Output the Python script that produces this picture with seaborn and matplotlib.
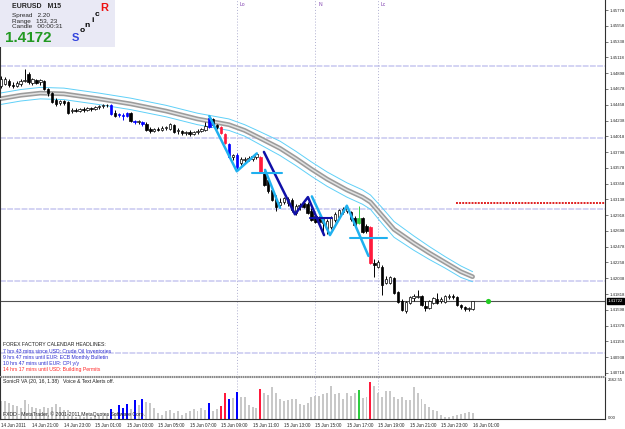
import numpy as np
import seaborn as sns
import matplotlib.pyplot as plt
from matplotlib.lines import Line2D
from matplotlib.patches import Rectangle

sns.set_style("white")
plt.rcParams['font.family'] = ['Liberation Sans', 'DejaVu Sans']

# EURUSD M15 bars, 14 Jun 19:00 .. 16 Jun 01:00 (121 bars)
opens = [1.4472, 1.4475, 1.4479, 1.4473, 1.4472, 1.4475, 1.4479, 1.4489, 1.4476, 1.4480,
         1.4478, 1.4479, 1.4468, 1.4462, 1.4452, 1.4448, 1.4451, 1.4450, 1.4437, 1.4438,
         1.4437, 1.4440, 1.4438, 1.4441, 1.4440, 1.4443, 1.4444, 1.4445, 1.4445, 1.4434,
         1.4431, 1.4431, 1.4430, 1.4434, 1.4423, 1.4422, 1.4422, 1.4419, 1.4412, 1.4409,
         1.4412, 1.4411, 1.4413, 1.4412, 1.4418, 1.4409, 1.4409, 1.4406, 1.4408, 1.4405,
         1.4408, 1.4409, 1.4411, 1.4415, 1.4426, 1.4418, 1.4415, 1.4405, 1.4391, 1.4373,
         1.4376, 1.4365, 1.4369, 1.4370, 1.4370, 1.4373, 1.4373, 1.4352, 1.4341, 1.4327,
         1.4314, 1.4306, 1.4310, 1.4309, 1.4313, 1.4295, 1.4305, 1.4309, 1.4307, 1.4298,
         1.4291, 1.4286, 1.4281, 1.4272, 1.4275, 1.4285, 1.4289, 1.4296, 1.4298, 1.4296,
         1.4288, 1.4281, 1.4288, 1.4277, 1.4275, 1.4225, 1.4220, 1.4220, 1.4197, 1.4197,
         1.4204, 1.4185, 1.4172, 1.4158, 1.4169, 1.4176, 1.4178, 1.4179, 1.4165, 1.4162,
         1.4169, 1.4175, 1.4172, 1.4171, 1.4178, 1.4179, 1.4178, 1.4167, 1.4164, 1.4161,
         1.4161]
highs = [1.4486, 1.4485, 1.4482, 1.4478, 1.4479, 1.4482, 1.4496, 1.4492, 1.4483, 1.4482,
         1.4482, 1.4480, 1.4469, 1.4464, 1.4455, 1.4452, 1.4452, 1.4451, 1.4441, 1.4441,
         1.4441, 1.4443, 1.4443, 1.4443, 1.4444, 1.4445, 1.4447, 1.4447, 1.4447, 1.4438,
         1.4434, 1.4434, 1.4436, 1.4436, 1.4425, 1.4425, 1.4423, 1.4422, 1.4415, 1.4413,
         1.4415, 1.4416, 1.4416, 1.4420, 1.4419, 1.4413, 1.4411, 1.4409, 1.4411, 1.4409,
         1.4412, 1.4413, 1.4422, 1.4430, 1.4427, 1.4419, 1.4416, 1.4406, 1.4392, 1.4377,
         1.4378, 1.4373, 1.4373, 1.4374, 1.4376, 1.4378, 1.4374, 1.4353, 1.4345, 1.4330,
         1.4320, 1.4316, 1.4317, 1.4317, 1.4316, 1.4307, 1.4309, 1.4313, 1.4310, 1.4302,
         1.4295, 1.4291, 1.4289, 1.4286, 1.4291, 1.4296, 1.4300, 1.4303, 1.4305, 1.4298,
         1.4291, 1.4305, 1.4289, 1.4279, 1.4277, 1.4231, 1.4229, 1.4222, 1.4207, 1.4207,
         1.4206, 1.4186, 1.4175, 1.4172, 1.4179, 1.4182, 1.4187, 1.4180, 1.4172, 1.4173,
         1.4178, 1.4183, 1.4178, 1.4180, 1.4182, 1.4182, 1.4179, 1.4168, 1.4165, 1.4164,
         1.4172]
lows = [1.4469, 1.4473, 1.4471, 1.4469, 1.4471, 1.4472, 1.4478, 1.4475, 1.4473, 1.4475,
        1.4473, 1.4466, 1.4458, 1.4448, 1.4444, 1.4445, 1.4445, 1.4433, 1.4434, 1.4436,
        1.4436, 1.4436, 1.4437, 1.4437, 1.4438, 1.4440, 1.4441, 1.4443, 1.4431, 1.4429,
        1.4429, 1.4425, 1.4429, 1.4422, 1.4419, 1.4419, 1.4416, 1.4409, 1.4406, 1.4408,
        1.4409, 1.4409, 1.4411, 1.4411, 1.4406, 1.4405, 1.4404, 1.4404, 1.4402, 1.4404,
        1.4405, 1.4408, 1.4409, 1.4413, 1.4416, 1.4412, 1.4405, 1.4391, 1.4371, 1.4369,
        1.4353, 1.4362, 1.4365, 1.4367, 1.4367, 1.4370, 1.4351, 1.4332, 1.4323, 1.4311,
        1.4298, 1.4302, 1.4307, 1.4305, 1.4296, 1.4292, 1.4299, 1.4302, 1.4293, 1.4284,
        1.4281, 1.4279, 1.4264, 1.4265, 1.4272, 1.4282, 1.4288, 1.4293, 1.4295, 1.4284,
        1.4277, 1.4279, 1.4267, 1.4267, 1.4224, 1.4206, 1.4218, 1.4180, 1.4196, 1.4196,
        1.4182, 1.4169, 1.4158, 1.4155, 1.4168, 1.4172, 1.4176, 1.4165, 1.4158, 1.4161,
        1.4168, 1.4168, 1.4169, 1.4169, 1.4175, 1.4175, 1.4165, 1.4161, 1.4158, 1.4158,
        1.4160]
closes = [1.4482, 1.4482, 1.4473, 1.4472, 1.4476, 1.4479, 1.4480, 1.4478, 1.4482, 1.4476,
          1.4480, 1.4468, 1.4462, 1.4450, 1.4447, 1.4451, 1.4448, 1.4434, 1.4438, 1.4437,
          1.4440, 1.4438, 1.4441, 1.4440, 1.4443, 1.4444, 1.4445, 1.4445, 1.4433, 1.4430,
          1.4433, 1.4430, 1.4434, 1.4423, 1.4422, 1.4423, 1.4419, 1.4411, 1.4409, 1.4412,
          1.4411, 1.4413, 1.4415, 1.4419, 1.4408, 1.4411, 1.4406, 1.4408, 1.4405, 1.4408,
          1.4409, 1.4412, 1.4416, 1.4427, 1.4418, 1.4415, 1.4406, 1.4392, 1.4373, 1.4376,
          1.4359, 1.4370, 1.4370, 1.4371, 1.4374, 1.4377, 1.4352, 1.4334, 1.4325, 1.4313,
          1.4303, 1.4310, 1.4316, 1.4314, 1.4299, 1.4305, 1.4306, 1.4303, 1.4295, 1.4285,
          1.4282, 1.4282, 1.4286, 1.4284, 1.4288, 1.4293, 1.4299, 1.4300, 1.4302, 1.4286,
          1.4278, 1.4288, 1.4268, 1.4270, 1.4225, 1.4222, 1.4226, 1.4194, 1.4203, 1.4206,
          1.4183, 1.4171, 1.4160, 1.4171, 1.4178, 1.4179, 1.4179, 1.4167, 1.4162, 1.4172,
          1.4176, 1.4169, 1.4175, 1.4179, 1.4179, 1.4178, 1.4167, 1.4164, 1.4161, 1.4162,
          1.4172]
volumes = [1130, 1130, 1010, 880, 820, 700, 1200, 950, 760, 700,
           630, 760, 700, 760, 950, 760, 570, 570, 190, 130,
           250, 130, 190, 130, 190, 250, 190, 250, 630, 380,
           880, 700, 950, 630, 1200, 880, 1270, 1070, 1010, 700,
           380, 250, 500, 570, 380, 500, 250, 380, 500, 630,
           500, 700, 570, 1010, 500, 630, 820, 1640, 1270, 1330,
           1700, 1390, 1390, 880, 760, 700, 1890, 1640, 1510, 2020,
           1640, 1260, 1130, 1200, 1260, 1260, 950, 880, 1010, 1390,
           1450, 1450, 1580, 1640, 2080, 1580, 1640, 1260, 1640, 1450,
           1640, 1830, 1320, 1390, 2330, 2080, 1640, 1390, 1760, 1760,
           1390, 1260, 1390, 1200, 1200, 2020, 1640, 1260, 950, 760,
           570, 500, 250, 130, 130, 190, 250, 320, 380, 440, 380]
blue_bars = [28, 30, 31, 32, 34, 36, 53, 58, 60]
red_bars = [56, 57, 66, 94]
green_bars = [91]

# "dragon" EMA band and its high/low envelope
band_bars = [-0.3, 5, 10, 16, 25, 33, 42, 50, 58, 62, 66, 71, 75, 79, 83, 88, 92, 94, 97, 100,
             105, 109, 113, 117, 120]
band_mid = [1.4454, 1.4459, 1.4462, 1.4461, 1.4454, 1.4447, 1.4437, 1.4426, 1.4418, 1.4410,
            1.4399, 1.4385, 1.4371, 1.4356, 1.4342, 1.4327, 1.4317, 1.4310, 1.4291, 1.4272,
            1.4253, 1.4239, 1.4226, 1.4213, 1.4206]
band_upper = [1.4462, 1.4467, 1.4470, 1.4469, 1.4462, 1.4455, 1.4445, 1.4434, 1.4426, 1.4418,
              1.4408, 1.4395, 1.4381, 1.4366, 1.4352, 1.4337, 1.4327, 1.4320, 1.4302, 1.4283,
              1.4263, 1.4248, 1.4234, 1.4221, 1.4213]
band_lower = [1.4446, 1.4451, 1.4454, 1.4453, 1.4446, 1.4439, 1.4429, 1.4418, 1.4410, 1.4402,
              1.4390, 1.4375, 1.4361, 1.4346, 1.4332, 1.4317, 1.4307, 1.4300, 1.4280, 1.4261,
              1.4243, 1.4230, 1.4218, 1.4205, 1.4199]

# pattern lines (bar, price)
cyan_a_x = [53, 60, 65.1]
cyan_a_y = [1.4430, 1.4353, 1.4378]
cyan_b_x = [67.2, 71.0]
cyan_b_y = [1.4355, 1.4302]
cyan_c_x = [79.1, 83.7, 88.0, 93.5]
cyan_c_y = [1.4318, 1.4264, 1.4305, 1.4235]
navy_x = [66.9, 74.8, 78.1, 82.2]
navy_y = [1.4380, 1.4293, 1.4317, 1.4264]
cross_cyan = [(63.9, 71.5, 1.4351), (88.8, 98.1, 1.4260)]
cross_navy = [(78.6, 84.2, 1.4288)]

round_levels = [1.41, 1.42, 1.43, 1.44, 1.45]
session_bars = [60, 80, 96]
session_names = ["Lo", "N", "Lc"]
red_level = 1.4309
red_level_start = 115.8
last_price = 1.4172
price_ticks = [1.40718, 1.40938, 1.41158, 1.41378, 1.41598, 1.41818, 1.42038, 1.42258,
               1.42478, 1.42698, 1.42918, 1.43138, 1.43358, 1.43578, 1.43798, 1.44018,
               1.44238, 1.44458, 1.44678, 1.44898, 1.45118, 1.45338, 1.45558, 1.45778]
time_ticks = list(range(0, 121, 8))
time_labels = ["14 Jun 2011", "14 Jun 21:00", "14 Jun 23:00", "15 Jun 01:00", "15 Jun 03:00",
               "15 Jun 05:00", "15 Jun 07:00", "15 Jun 09:00", "15 Jun 11:00", "15 Jun 13:00",
               "15 Jun 15:00", "15 Jun 17:00", "15 Jun 19:00", "15 Jun 21:00", "15 Jun 23:00",
               "16 Jun 01:00"]
headlines = [("FOREX FACTORY CALENDAR HEADLINES:", "#202020"),
             ("7 hrs 43 mins since USD: Crude Oil Inventories", "#2b2bd0"),
             ("9 hrs 47 mins until EUR: ECB Monthly Bulletin", "#2b2bd0"),
             ("10 hrs 47 mins until EUR: CPI y/y", "#2b2bd0"),
             ("14 hrs 17 mins until USD: Building Permits", "#ff2a2a")]

W, H = 625, 429


def fpos(x, y):
    return x / W, 1 - y / H


fig = plt.figure(figsize=(6.25, 4.29), dpi=100)
ax = fig.add_axes([0, 54 / H, 605 / W, 375 / H])
axv = fig.add_axes([0, 10 / H, 605 / W, 42 / H], sharex=ax)

# background lines
for lv in round_levels:
    ax.axhline(lv, color='#d3d3f3', lw=1.4, ls=(0, (3, 0.7)), zorder=1)
for b in session_bars:
    for a in (ax, axv):
        a.axvline(b, color='#b0b0d0', lw=0.7, ls=(0, (1, 2)), zorder=1)
ax.axhline(last_price, color='#505050', lw=0.8, zorder=1.5)
ax.plot([red_level_start, 160], [red_level, red_level], color='#e02020', lw=1.4,
        ls=(0, (1, 0.6)), zorder=2)

# EMA band
sns.lineplot(x=band_bars, y=band_mid, ax=ax, color='#9c9c9c', linewidth=3.4, zorder=2.5)
sns.lineplot(x=band_bars, y=band_mid, ax=ax, color='#e2e2e2', linewidth=1.1, zorder=2.6)
sns.lineplot(x=band_bars, y=band_upper, ax=ax, color='#5fd0f8', linewidth=0.7, zorder=2.5)
sns.lineplot(x=band_bars, y=band_lower, ax=ax, color='#5fd0f8', linewidth=0.7, zorder=2.5)

# candles
n = len(closes)
idx = np.arange(n)
o, hi, lo, c = map(np.array, (opens, highs, lows, closes))
face = np.where(c >= o, 'white', 'black').astype(object)
edge = np.array(['black'] * n, dtype=object)
vcol = np.array(['#c8c8c8'] * n, dtype=object)
for ids, col in ((blue_bars, '#0000ff'), (red_bars, '#ff1a3c'), (green_bars, '#2ecc40')):
    face[ids] = col
    edge[ids] = col
    vcol[ids] = col
ax.vlines(idx, lo, hi, colors=list(edge), lw=0.7, zorder=3)
body = np.maximum(np.abs(c - o), 0.00004)
ax.bar(idx, body, width=0.62, bottom=np.minimum(o, c), color=list(face),
       edgecolor=list(edge), linewidth=0.5, zorder=3.5)

# pattern lines
for xs, ys, col in ((cyan_a_x, cyan_a_y, '#1fb0ef'), (cyan_b_x, cyan_b_y, '#1fb0ef'),
                    (cyan_c_x, cyan_c_y, '#1fb0ef'), (navy_x, navy_y, '#1010a8')):
    sns.lineplot(x=xs, y=ys, ax=ax, sort=False, color=col, linewidth=1.8, zorder=4)
for x0, x1, y in cross_cyan:
    ax.plot([x0, x1], [y, y], color='#1fb0ef', lw=1.5, zorder=4)
for x0, x1, y in cross_navy:
    ax.plot([x0, x1], [y, y], color='#1010a8', lw=1.5, zorder=4)
sns.scatterplot(x=[123.9], y=[last_price], ax=ax, color='#22cc22', s=14, linewidth=0, zorder=5)

for b, name in zip(session_bars, session_names):
    ax.text(b + 0.7, 1 - 5 / 375, name, transform=ax.get_xaxis_transform(),
            fontsize=3.6, color='#8040b0', va='center', ha='left')

# price axis
ax.set_xlim(-1 / 3.93, 604 / 3.93)
ax.set_ylim(1.45919 - 0.00013947 * 375, 1.45919)
ax.yaxis.tick_right()
ax.set_yticks(price_ticks)
ax.set_yticklabels([f"{p:.5f}" for p in price_ticks])
ax.tick_params(axis='y', length=2, width=0.5, pad=1, labelsize=3.1, color='#404040')
ax.tick_params(axis='x', bottom=False, labelbottom=False)
ax.set_xlabel('')
ax.set_ylabel('')
for s in ('top', 'bottom'):
    ax.spines[s].set_visible(False)
for s in ('left', 'right'):
    ax.spines[s].set_color('#303030')
    ax.spines[s].set_linewidth(0.8)
ax.text(1.005, last_price, "1.41722", transform=ax.get_yaxis_transform(), fontsize=3.1,
        color='white', va='center', ha='left',
        bbox=dict(boxstyle='square,pad=0.2', fc='black', ec='black'))

# volume panel
axv.bar(idx, volumes, width=0.5, color=list(vcol), linewidth=0, zorder=2)
axv.set_ylim(0, 2662.55)
axv.yaxis.tick_right()
axv.set_yticks([])
axv.set_xticks(time_ticks)
axv.set_xticklabels(time_labels, ha='left')
axv.tick_params(axis='x', length=2, width=0.5, pad=1, labelsize=3.3, color='#404040')
axv.spines['top'].set_visible(False)
for s in ('left', 'right', 'bottom'):
    axv.spines[s].set_color('#303030')
    axv.spines[s].set_linewidth(0.8)
fig.text(*fpos(608, 380), "2662.55", fontsize=3.1, va='center', ha='left')
fig.text(*fpos(608, 418), "0.00", fontsize=3.1, va='center', ha='left')

# separator between panels
for yy in (375.5, 377.2):
    fig.add_artist(Line2D([0, 605 / W], [1 - yy / H] * 2, color='#8a8a8a', lw=0.8,
                          ls=(0, (1.5, 0.5))))

# texts
for k, (txt, col) in enumerate(headlines):
    fig.text(*fpos(3, 345 + 6.2 * k), txt, fontsize=3.7, color=col, va='center')
fig.text(*fpos(3, 382), "SonicR VA (20, 16, 1.38)   Voice & Text Alerts off.",
         fontsize=3.7, color='#202020', va='center')
fig.text(*fpos(3, 414.5), "FXDD - MetaTrader, \u00a9 2001-2011 MetaQuotes Software Corp.",
         fontsize=3.7, color='#202020', va='center')

# info box
fig.add_artist(Rectangle(fpos(0, 47), 115 / W, 47 / H, transform=fig.transFigure,
                         facecolor='#e9e9f5', edgecolor='none', zorder=5))
fig.text(*fpos(12, 6.5), "EURUSD   M15", fontsize=5, fontweight='bold', va='center', zorder=6)
fig.text(*fpos(12, 15), "Spread   2.20", fontsize=4.6, va='center', zorder=6)
fig.text(*fpos(12, 21), "Range   153, 23", fontsize=4.6, va='center', zorder=6)
fig.text(*fpos(12, 27), "Candle   00:00:31", fontsize=4.6, va='center', zorder=6)
fig.text(*fpos(5, 38.5), "1.4172", fontsize=11, fontweight='bold', color='#229922',
         va='center', zorder=6)
for ch, x, y, col, fs in (("S", 75, 38, '#3344dd', 8), ("o", 81.7, 31, 'black', 6),
                          ("n", 87.3, 25.5, 'black', 6), ("i", 92.7, 20, 'black', 6),
                          ("c", 96.7, 15, 'black', 6), ("R", 104.3, 8.3, '#ee1111', 8)):
    fig.text(*fpos(x, y), ch, fontsize=fs, fontweight='bold', color=col, ha='center',
             va='center', zorder=6)

fig.savefig('out.png', dpi=100)
